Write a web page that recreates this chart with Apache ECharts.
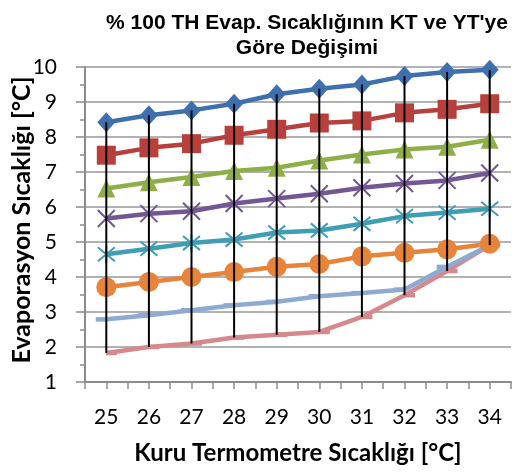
<!DOCTYPE html>
<html><head><meta charset="utf-8">
<script src="https://cdn.jsdelivr.net/npm/echarts@6/dist/echarts.min.js"></script>
<style>html,body{margin:0;padding:0;background:#fff}#c{width:514px;height:476px}</style>
</head><body><div id="c"></div>
<script>
var categories = [25, 26, 27, 28, 29, 30, 31, 32, 33, 34];
var s1 = [8.42, 8.62, 8.76, 8.95, 9.22, 9.38, 9.50, 9.74, 9.86, 9.92];
var s2 = [7.48, 7.69, 7.81, 8.05, 8.22, 8.40, 8.46, 8.69, 8.79, 8.95];
var s3 = [6.53, 6.71, 6.86, 7.03, 7.12, 7.33, 7.50, 7.64, 7.72, 7.92];
var s4 = [5.67, 5.81, 5.88, 6.10, 6.24, 6.38, 6.55, 6.67, 6.76, 6.97];
var s5 = [4.65, 4.81, 4.97, 5.07, 5.27, 5.33, 5.52, 5.74, 5.84, 5.95];
var s6 = [3.71, 3.86, 4.00, 4.14, 4.29, 4.37, 4.59, 4.69, 4.79, 4.95];
var s7 = [2.79, 2.91, 3.05, 3.19, 3.29, 3.45, 3.54, 3.64, 4.29, 4.91];
var s8 = [1.83, 2.00, 2.10, 2.27, 2.35, 2.43, 2.86, 3.48, 4.17, 4.91];
var yTicks = [1, 2, 3, 4, 5, 6, 7, 8, 9, 10];

var allSeries = [s1, s2, s3, s4, s5, s6, s7, s8];
function pairs(arr) { return categories.map(function (c, i) { return [c, arr[i]]; }); }
var hiLo = categories.map(function (c, i) {
  var vals = allSeries.map(function (s) { return s[i]; });
  return [c, Math.max.apply(null, vals), Math.min.apply(null, vals)];
});

var xPath = 'path://M0,0L10,10M10,0L0,10';
var starPath = 'path://M0,0L10,10M10,0L0,10M5,-1L5,11';
function lineSeries(arr, color, symbol, size, extra) {
  var o = {
    type: 'line', data: pairs(arr), symbol: symbol, symbolSize: size,
    lineStyle: { color: color, width: 4.5 },
    itemStyle: { color: color, borderColor: color, borderWidth: 0, opacity: 1 },
    z: 3, animation: false
  };
  if (extra) { for (var k in extra) o[k] = extra[k]; }
  return o;
}

var chart = echarts.init(document.getElementById('c'), null, { renderer: 'canvas' });
chart.setOption({
  backgroundColor: '#fff',
  animation: false,
  title: {
    text: "% 100 TH Evap. Sıcaklığının KT ve YT'ye\nGöre Değişimi",
    left: 302, top: 6, textAlign: 'center',
    textStyle: { fontFamily: 'Liberation Sans', fontWeight: 'bold', fontSize: 21, lineHeight: 25, color: '#000' }
  },
  grid: { left: 85, top: 67, right: -7, bottom: 94 },
  xAxis: {
    type: 'value', min: 24.5, max: 34.5, interval: 0.5,
    axisLine: { lineStyle: { color: '#8c8c8c', width: 2 } },
    axisTick: { show: true, length: 7, lineStyle: { color: '#8c8c8c', width: 1.5 } },
    splitLine: { show: false },
    axisLabel: {
      margin: 25, color: '#000', fontFamily: 'Lato', fontSize: 21,
      formatter: function (v) { return (Math.abs(v - Math.round(v)) < 1e-6) ? String(Math.round(v)) : ''; }
    }
  },
  yAxis: {
    type: 'value', min: yTicks[0], max: yTicks[yTicks.length - 1], interval: 1,
    axisLine: { show: true, lineStyle: { color: '#8c8c8c', width: 2 } },
    axisTick: { show: true, length: 9, lineStyle: { color: '#8c8c8c', width: 1.5 } },
    minorTick: { show: true, splitNumber: 2, length: 5, lineStyle: { color: '#8c8c8c', width: 1.5 } },
    splitLine: { show: true, lineStyle: { color: '#999999', width: 1.5 } },
    axisLabel: { margin: 28, color: '#000', fontFamily: 'Lato', fontSize: 21 }
  },
  graphic: [
    { type: 'text', x: 22, y: 220, rotation: Math.PI / 2,
      style: { text: 'Evaporasyon Sıcaklığı [°C]', fontFamily: 'Lato', fontWeight: 'bold', fontSize: 25, fill: '#000', align: 'center', verticalAlign: 'middle' } },
    { type: 'text', x: 298, y: 453,
      style: { text: 'Kuru Termometre Sıcaklığı [°C]', fontFamily: 'Lato', fontWeight: 'bold', fontSize: 24, fill: '#000', align: 'center', verticalAlign: 'middle' } }
  ],
  series: [
    lineSeries(s8, '#d5898d', 'rect', [11, 4.5], { symbolOffset: [5, 0] }),
    lineSeries(s7, '#8eaad3', 'rect', [11, 4.5], { symbolOffset: [-5, 0] }),
    lineSeries(s6, '#e8843a', 'circle', 20),
    lineSeries(s5, '#3f9db5', starPath, 17, { itemStyle: { color: 'none', borderColor: '#3f9db5', borderWidth: 2 } }),
    lineSeries(s4, '#735694', xPath, 17, { itemStyle: { color: 'none', borderColor: '#735694', borderWidth: 2 } }),
    lineSeries(s3, '#8eaf48', 'triangle', 18),
    lineSeries(s2, '#b7403d', 'rect', 19),
    lineSeries(s1, '#3f70ae', 'diamond', [18, 20]),
    {
      type: 'custom', z: 10, data: hiLo, encode: { x: 0, y: [1, 2] },
      renderItem: function (params, api) {
        var p1 = api.coord([api.value(0), api.value(1)]);
        var p2 = api.coord([api.value(0), api.value(2)]);
        return { type: 'line', shape: { x1: p1[0], y1: p1[1], x2: p2[0], y2: p2[1] },
          style: { stroke: '#000', lineWidth: 2 } };
      }
    }
  ]
});
</script></body></html>
